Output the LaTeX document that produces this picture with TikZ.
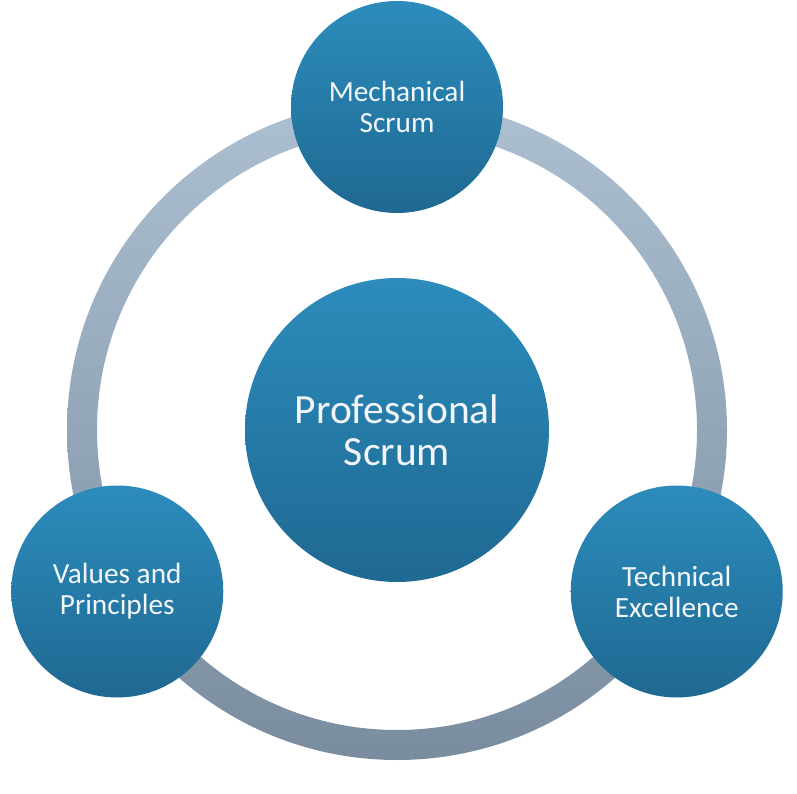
\documentclass[tikz,border=0pt]{standalone}
\usepackage{fontspec}
\setmainfont{Carlito}
\usetikzlibrary{calc}
\definecolor{disctop}{HTML}{2C8CBC}
\definecolor{discbot}{HTML}{1F6992}
\definecolor{ringtop}{HTML}{ADC0D2}
\definecolor{ringbot}{HTML}{7A8D9F}
\definecolor{label}{HTML}{F2F6FA}
\begin{document}
\begin{tikzpicture}[
  x=1pt,y=1pt,
  disc/.style={circle,inner sep=0pt,top color=disctop,bottom color=discbot,
    text=label,align=center},
  small/.style={disc,minimum size=212pt,font=\fontsize{29.3}{31}\selectfont},
  big/.style={disc,minimum size=304pt,font=\fontsize{41.5}{42}\selectfont}
]
\useasboundingbox (0,0) rectangle (797,793);
\coordinate (ctr) at (397,363);
% ring behind the discs
\shade[top color=ringtop,bottom color=ringbot,even odd rule]
  (ctr) circle (330) (ctr) circle (300);

\node[big] (prof) at (ctr) {Professional\\Scrum};
\node[small] (mech) at ($(ctr)+(90:323)$) {Mechanical\\Scrum};
\node[small] (vals) at ($(ctr)+(210:323)$) {Values and\\Principles};
\node[small] (tech) at ($(ctr)+(330:323)$) {Technical\\Excellence};
\end{tikzpicture}
\end{document}
